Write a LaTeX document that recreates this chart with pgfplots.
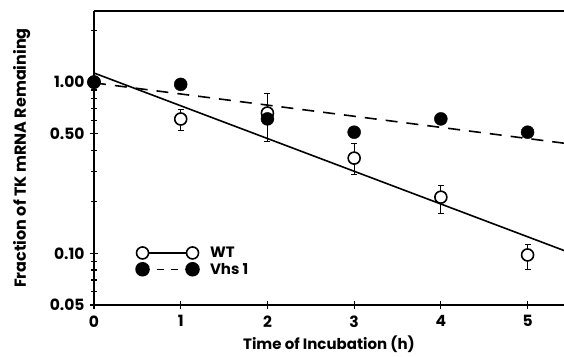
\documentclass[border=0pt]{standalone}
\usepackage{fontspec}
\setmainfont{Poppins}
\usepackage{pgfplots}
\pgfplotsset{compat=1.18}
\begin{document}
\begin{tikzpicture}
\begin{axis}[
  scale only axis,
  width=470pt, height=294pt,
  ymode=log,
  xmin=0, xmax=5.42,
  ymin=0.05, ymax=2.6,
  axis x line=box,
  axis y line*=left,
  axis line style={line width=1.6pt},
  xtick={0,1,2,3,4,5},
  xtick pos=bottom,
  ytick={0.05,0.1,0.5,1},
  yticklabels={0.05,0.10,0.50,1.00},
  minor ytick={0.06,0.07,0.08,0.09,0.2,0.3,0.4,0.6,0.7,0.8,0.9,2},
  tick align=center,
  major tick length=8pt,
  minor tick length=6pt,
  tick style={line width=1.2pt, black},
  /pgf/number format/assume math mode=true,
  ticklabel style={font=\fontsize{15.5}{15.5}\bfseries},
  xticklabel style={yshift=-3pt},
  yticklabel style={xshift=-2pt},
  xlabel={Time of Incubation (h)},
  ylabel={Fraction of TK mRNA Remaining},
  xlabel style={font=\fontsize{15}{15}\bfseries, inner sep=1pt, yshift=-4.5pt},
  ylabel style={font=\fontsize{16}{16}\bfseries, at={(axis description cs:-0.128,0.5)}, anchor=south},
  legend style={draw=none, fill=none, at={(axis description cs:0.089,0.205)}, anchor=north west,
    font=\fontsize{15}{15}\bfseries, row sep=0pt, column sep=9pt, inner sep=0pt},
  legend cell align=left,
  legend image code/.code={
    \draw[#1, mark=none] (0pt,0pt) -- (50pt,0pt);
    \draw[#1, only marks, solid] plot coordinates {(0pt,0pt) (50pt,0pt)};
  },
  clip=true,
]
\addlegendimage{black, line width=1.5pt, mark=*, mark size=6pt, mark options={solid, fill=white, line width=1.6pt}}
\addlegendentry{WT}
\addlegendimage{black, line width=1.5pt, dash pattern=on 7pt off 7pt, mark=*, mark size=6.5pt, mark options={solid, fill=black}}
\addlegendentry{Vhs 1}

% regression lines
\addplot[black, line width=1.6pt, forget plot] coordinates {(0,1.13) (5.42,0.104)};
\addplot[black, line width=1.6pt, dash pattern=on 12pt off 9pt, forget plot] coordinates {(0,0.99) (5.42,0.44)};

% WT
\addplot[black, only marks, mark=*, mark size=6pt, mark options={fill=white, line width=1.6pt}, forget plot,
  error bars/.cd, y dir=both, y explicit,
  error bar style={line width=1.2pt},
  error mark options={rotate=90, mark size=3pt, line width=1.2pt}]
coordinates {
  (0,1.0)
  (1,0.609) += (0,0.085) -= (0,0.085)
  (2,0.66) += (0,0.20) -= (0,0.21)
  (3,0.36) += (0,0.078) -= (0,0.07)
  (4,0.213) += (0,0.037) -= (0,0.042)
  (5,0.098) += (0,0.015) -= (0,0.017)
};

% Vhs 1
\addplot[black, only marks, mark=*, mark size=6.5pt, mark options={fill=black}, forget plot]
coordinates {
  (0,1.0) (1,0.97) (2,0.61) (3,0.51) (4,0.61) (5,0.51)
};
\end{axis}
\pgfresetboundingbox
\useasboundingbox ([shift={(-94pt,-51pt)}]current axis.south west) rectangle ([shift={(0pt,11pt)}]current axis.north east);
\end{tikzpicture}
\end{document}
